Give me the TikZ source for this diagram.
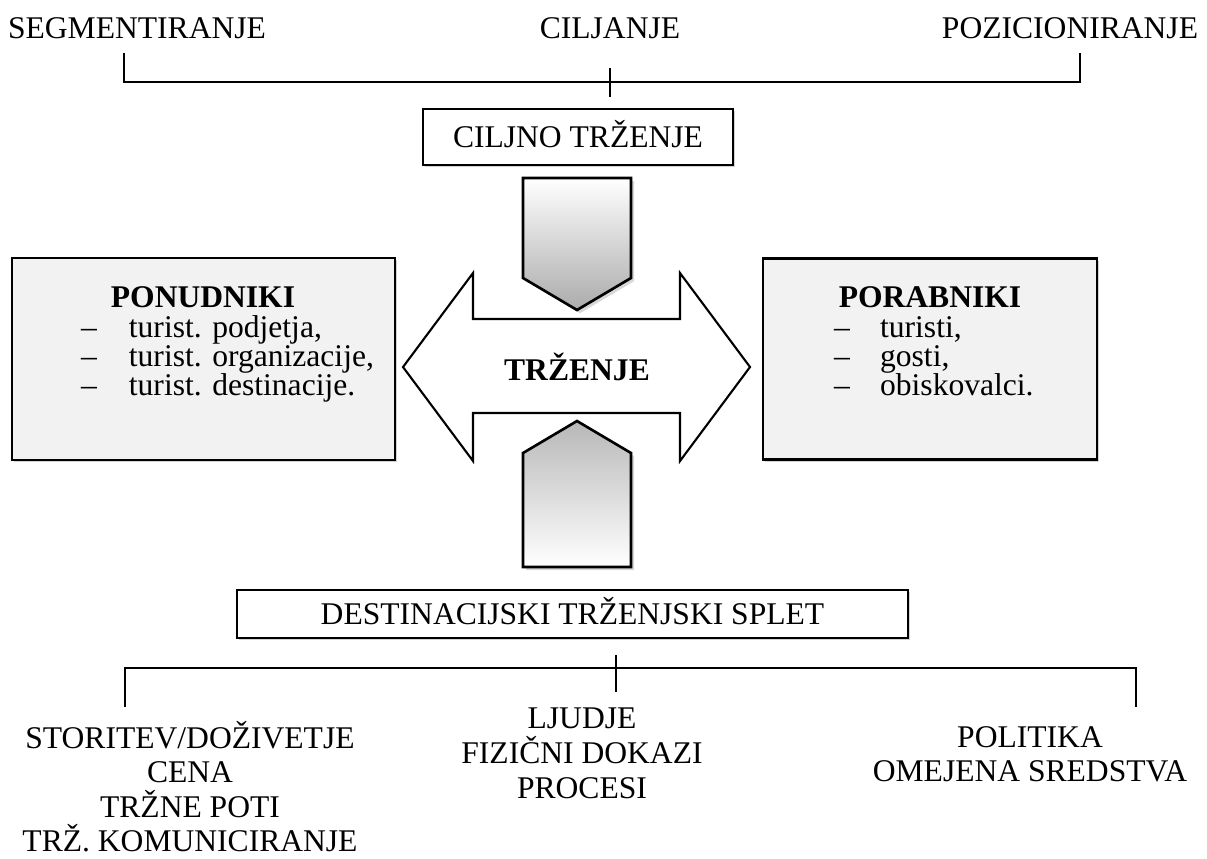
\documentclass[tikz,border=0pt]{standalone}
\usepackage{fontspec}
\setmainfont{Liberation Serif}
\usetikzlibrary{shadows}

\tikzset{
	box/.style={draw, line width=0.8pt, inner sep=0pt, text height=8pt, text depth=0pt,
		drop shadow={shadow xshift=0.8pt, shadow yshift=-0.8pt, fill=black!35}},
	greybox/.style={box, fill=black!5},
	lbl/.style={anchor=base, inner sep=0pt},
	item/.style={anchor=base west, inner sep=0pt},
	pent/.style={draw, line width=1pt,
		drop shadow={shadow xshift=1.2pt, shadow yshift=-1.2pt, fill=black!30}},
}

\begin{document}
\begin{tikzpicture}[x=0.38pt, y=-0.38pt, font=\fontsize{12}{14}\selectfont, line width=0.8pt]
	\useasboundingbox (0,0) rectangle (1207,858);

	% zgoraj
	\node[lbl] (seg) at (137,38) {SEGMENTIRANJE};
	\node[lbl] (cil) at (610,38) {CILJANJE};
	\node[lbl] (poz) at (1070,38) {POZICIONIRANJE};
	\coordinate (segEnd) at (124,53);
	\coordinate (pozEnd) at (1080,53);
	\coordinate (cilTop) at (610,68);
	\coordinate (cilBot) at (610,97);
	\draw (segEnd) -- ++(0,29) -| (pozEnd);
	\draw (cilTop) -- (cilBot);

	\node[box, fill=white, minimum width=117.8pt, minimum height=21.3pt] (cilj) at (578,137) {CILJNO TRŽENJE};

	% trzenje
	\draw (403,367) -- (473,273) -- (473,319) -- (680,319) -- (680,273) -- (750,367)
		-- (680,461) -- (680,413) -- (473,413) -- (473,461) -- cycle;
	\node[inner sep=0pt] (trz) at (577,367) {\bfseries TRŽENJE};

	\draw[pent, top color=white, bottom color=black!33] (523,178) -- (631,178) -- (631,278) -- (577,310) -- (523,278) -- cycle;
	\draw[pent, top color=black!28, bottom color=white] (577,421) -- (631,453) -- (631,567) -- (523,567) -- (523,453) -- cycle;

	% ponudniki
	\node[greybox, minimum width=145.5pt, minimum height=76.8pt] (pon) at (203.5,359) {};
	\node[lbl] (ponT) at (203,307) {\bfseries PONUDNIKI};
	\node[item] (pon1) at (80,337) {\makebox[18.2pt][l]{--}turist. podjetja,};
	\node[item] (pon2) at (80,366) {\makebox[18.2pt][l]{--}turist. organizacije,};
	\node[item] (pon3) at (80,395) {\makebox[18.2pt][l]{--}turist. destinacije.};

	% porabniki
	\node[greybox, minimum width=126.9pt, minimum height=76.4pt] (por) at (930,359) {};
	\node[lbl] (porT) at (930,307) {\bfseries PORABNIKI};
	\node[item] (por1) at (833,337) {\makebox[17.5pt][l]{--}turisti,};
	\node[item] (por2) at (833,366) {\makebox[17.5pt][l]{--}gosti,};
	\node[item] (por3) at (833,395) {\makebox[17.5pt][l]{--}obiskovalci.};

	% spodaj
	\node[box, fill=white, minimum width=255pt, minimum height=18.2pt] (dest) at (572.5,614) {DESTINACIJSKI TRŽENJSKI SPLET};
	\coordinate (destTop) at (616,655);
	\coordinate (destBot) at (616,692);
	\coordinate (levoEnd) at (125,707);
	\coordinate (desnoEnd) at (1136,707);
	\draw (levoEnd) -- ++(0,-39) -| (desnoEnd);
	\draw (destTop) -- (destBot);

	\node[lbl] (lev1) at (190,748) {STORITEV/DOŽIVETJE};
	\node[lbl] (lev2) at (190,782) {CENA};
	\node[lbl] (lev3) at (190,817) {TRŽNE POTI};
	\node[lbl] (lev4) at (190,851) {TRŽ. KOMUNICIRANJE};

	\node[lbl] (sre1) at (582,728) {LJUDJE};
	\node[lbl] (sre2) at (582,763) {FIZIČNI DOKAZI};
	\node[lbl] (sre3) at (582,798) {PROCESI};

	\node[lbl] (des1) at (1030,747) {POLITIKA};
	\node[lbl] (des2) at (1030,781) {OMEJENA SREDSTVA};
\end{tikzpicture}
\end{document}
